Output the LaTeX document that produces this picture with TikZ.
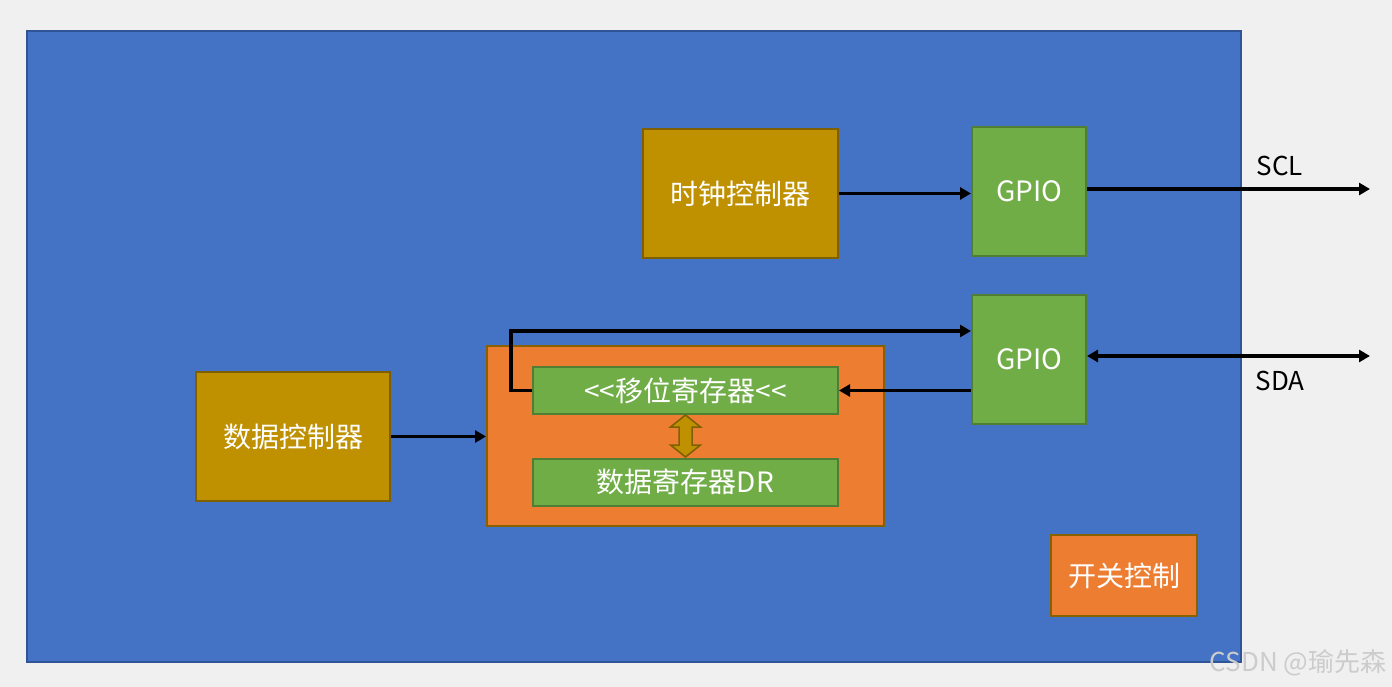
\documentclass[tikz,border=0pt]{standalone}
\usepackage{fontspec}
\setmainfont{Noto Sans CJK SC}
\usetikzlibrary{arrows.meta}
\definecolor{pagebg}{HTML}{F0F0F0}
\definecolor{chipblue}{HTML}{4472C4}
\definecolor{chipline}{HTML}{2F5597}
\definecolor{ctlgold}{HTML}{BF9000}
\definecolor{ctlline}{HTML}{7F6000}
\definecolor{regreen}{HTML}{70AD47}
\definecolor{regline}{HTML}{507E32}
\definecolor{unitorange}{HTML}{ED7D31}
\definecolor{unitline}{HTML}{8A6100}
\begin{document}
\begin{tikzpicture}[x=1pt,y=-1pt,>={Triangle[length=11pt,width=12pt]},
	box/.style={draw,line width=2pt,inner sep=0pt,text=white,font=\fontsize{28}{32}\selectfont},
	ctlbox/.style={box,fill=ctlgold,draw=ctlline},
	gpiobox/.style={box,fill=regreen,draw=regline,minimum width=114pt,minimum height=129pt},
	regbox/.style={box,fill=regreen,draw=regline,minimum width=305pt,minimum height=47pt},
	unitbox/.style={box,fill=unitorange,draw=unitline},
	wire/.style={line width=3.5pt,->}]
	\useasboundingbox[fill=pagebg] (0,0) rectangle (1392,687);
	% chip
	\draw[fill=chipblue,draw=chipline,line width=2pt] (27,31) rectangle (1241,662);
	\node[ctlbox,minimum width=195pt,minimum height=129pt] (clk) at (740.5,193.5) {时钟控制器};
	\node[ctlbox,minimum width=194pt,minimum height=129pt] (datactl) at (293,436.5) {数据控制器};
	\node[gpiobox] (gpioA) at (1029,191.5) {GPIO};
	\node[gpiobox] (gpioB) at (1029,359.5) {GPIO};
	\node[unitbox,minimum width=397pt,minimum height=180pt] (frame) at (685.5,436) {};
	\node[regbox] (shift) at (685.5,390.5) {<{}<移位寄存器<{}<};
	\node[regbox] (dr) at (685.5,482) {数据寄存器DR};
	\node[unitbox,minimum width=146pt,minimum height=81pt] (sw) at (1124,575.5) {开关控制};
	% fat two-way arrow between the registers
	\draw[fill=ctlgold,draw=ctlline,line width=1.5pt,line join=miter]
		(685.5,415) -- (700.5,427) -- (692,427) -- (692,445) -- (700.5,445) -- (685.5,457)
		-- (670.5,445) -- (679,445) -- (679,427) -- (670.5,427) -- cycle;
	% pins
	\coordinate (sclEnd) at (1370,189);
	\coordinate (sdaEnd) at (1370,356);
	\coordinate (loop) at (511,331);
	\draw[wire] (clk.east) -- (clk.east -| gpioA.west);
	\draw[wire] (gpioA.east |- sclEnd) -- (sclEnd);
	\draw[wire,<->] (gpioB.east |- sdaEnd) -- (sdaEnd);
	\draw[wire] (gpioB.west |- shift.east) -- (shift.east);
	\draw[wire] (shift.west) -| (loop) -- (loop -| gpioB.west);
	\draw[wire] (datactl.east) -- (datactl.east -| frame.west);
	\node[font=\fontsize{26}{30}\selectfont] (scl) at (1280,166) {SCL};
	\node[font=\fontsize{26}{30}\selectfont] (sda) at (1280,381) {SDA};
	\node[anchor=east,text=black!20,font=\fontsize{26}{30}\selectfont] (mark) at (1390,663) {CSDN @瑜先森};
\end{tikzpicture}
\end{document}
